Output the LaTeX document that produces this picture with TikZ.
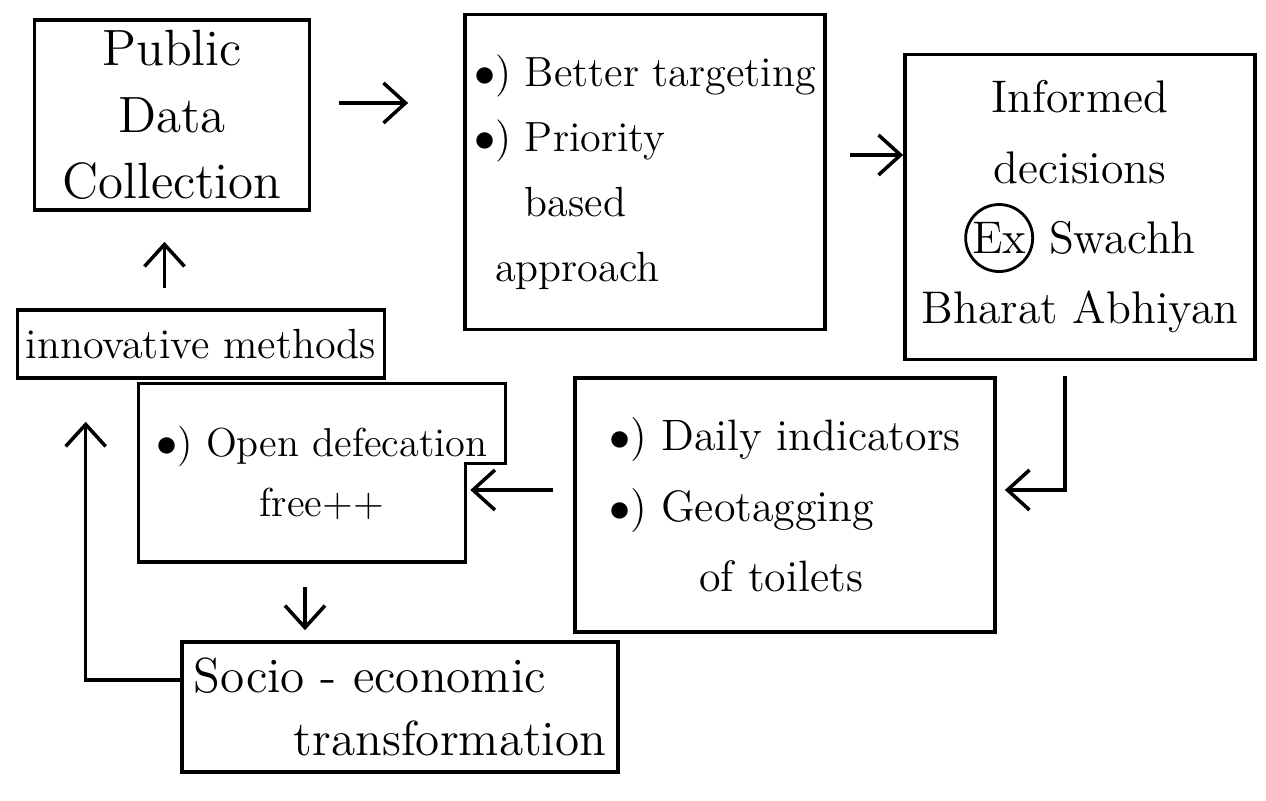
\documentclass[tikz,border=0pt]{standalone}
\usepackage{amsmath}
\usepackage{amssymb}
\usetikzlibrary{arrows.meta,positioning}
\begin{document}
\begin{tikzpicture}[x=0.01cm,y=-0.01cm,
    box/.style={draw,line width=1pt,inner sep=2pt},
    arr/.style={line width=1pt,-{Straight Barb[length=2.2mm,width=4mm]}}]
  \useasboundingbox (0,0) rectangle (1266,801);
  % boxes
  \node (pdc) at (172,115) [box,minimum width=2.75cm,minimum height=1.9cm,align=center,font=\fontsize{14.5}{19}\selectfont] {Public\\Data\\Collection};
  \node (tgt) at (645,172) [box,minimum width=3.6cm,minimum height=3.15cm,align=left,font=\fontsize{12}{18.5}\selectfont] {$\bullet$) Better targeting\\$\bullet$) Priority\\\phantom{$\bullet$) }based\\\phantom{$\bullet$}approach};
  \node (inf) at (1080,207) [box,minimum width=3.5cm,minimum height=3.05cm,align=center,font=\fontsize{13}{20}\selectfont] {Informed\\decisions\\\tikz[baseline=(ex.base)]\node[draw,circle,line width=0.8pt,inner sep=0.5pt,minimum size=0pt] (ex) {Ex};\ Swachh\\Bharat Abhiyan};
  \node (inn) at (201,344) [box,minimum width=3.67cm,minimum height=0.68cm,font=\fontsize{12}{14}\selectfont] {innovative methods};
  \node (odf) at (322,473) [minimum width=3.65cm,minimum height=1.77cm,align=center,font=\fontsize{11.5}{17}\selectfont] {$\bullet$) Open defecation\\free++};
  \draw[line width=1pt] (odf.north west) -- (odf.north east) -- ++(0,80) -- ++(-40,0) coordinate (odfin) |- (odf.south west) -- cycle;
  \node (geo) at (785,505) [box,minimum width=4.2cm,minimum height=2.54cm,align=left,font=\fontsize{12.5}{20}\selectfont] {$\bullet$) Daily indicators\\$\bullet$) Geotagging\\\hspace*{0.9cm}of toilets};
  \node (soc) at (400,707) [box,minimum width=4.36cm,minimum height=1.3cm,align=left,font=\fontsize{14}{18}\selectfont] {Socio - economic\\\hspace*{1cm}transformation};
  % arrows
  \draw[arr,shorten >=0.55cm] ([xshift=0.28cm,yshift=0.12cm]pdc.east) -- ([yshift=0.12cm]pdc.east -| tgt.west);
  \draw[arr] ([xshift=0.23cm,yshift=0.17cm]tgt.east) -- ([yshift=0.17cm]tgt.east -| inf.west);
  \draw[arr,shorten <=0.2cm,shorten >=0.3cm] ([xshift=-0.365cm]inn.north) -- ([xshift=-0.365cm]inn.north |- pdc.south);
  \draw[arr,shorten <=0.15cm,shorten >=0.08cm] ([xshift=-0.15cm]inf.south) |- ([yshift=0.15cm]geo.east);
  \draw[arr,shorten <=0.2cm,shorten >=0.05cm] ([yshift=0.15cm]geo.west) -- ([yshift=0.15cm]geo.west -| odfin);
  \draw[arr,shorten <=0.25cm,shorten >=0.1cm] ([xshift=-0.17cm]odf.south) -- ([xshift=-0.17cm]odf.south |- soc.north);
  \draw[arr,shorten >=0.42cm] ([yshift=0.27cm]soc.west) -| ([xshift=0.7cm]inn.south west);
\end{tikzpicture}
\end{document}
